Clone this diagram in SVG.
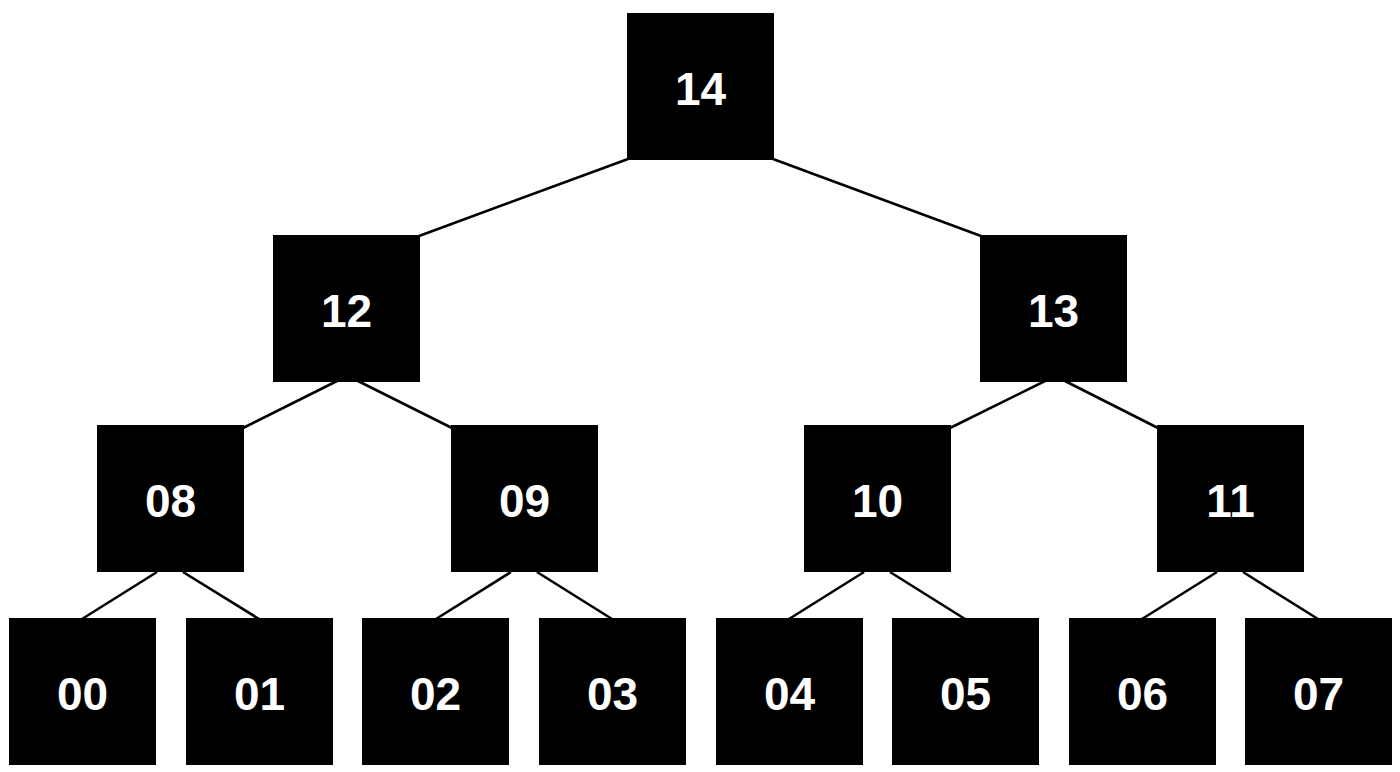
<svg xmlns="http://www.w3.org/2000/svg" width="1400" height="772" viewBox="0 0 1400 772">
<style>
.n rect{fill:#000}
.n text{fill:#fff;font-family:"Liberation Sans",Arial,sans-serif;font-weight:bold;font-size:46px;text-anchor:middle}
#edges line{stroke:#000;stroke-width:2.6}
</style>
<rect width="1400" height="772" fill="#fff"/>
<g id="edges">
<line x1="628" y1="159" x2="419" y2="236"/>
<line x1="773" y1="159" x2="981" y2="236"/>
<line x1="337" y1="381" x2="243" y2="428"/>
<line x1="358" y1="381" x2="452" y2="428"/>
<line x1="1045" y1="381" x2="950" y2="428"/>
<line x1="1065" y1="381" x2="1158" y2="428"/>
<line x1="157" y1="572" x2="82" y2="619"/>
<line x1="183" y1="572" x2="259" y2="619"/>
<line x1="511" y1="572" x2="436" y2="619"/>
<line x1="537" y1="572" x2="612" y2="619"/>
<line x1="864" y1="572" x2="789" y2="619"/>
<line x1="890" y1="572" x2="965" y2="619"/>
<line x1="1217" y1="572" x2="1142" y2="619"/>
<line x1="1243" y1="572" x2="1318" y2="619"/>
</g>
<g id="n14" class="n"><rect x="627" y="13" width="147" height="147"/><text x="700.5" y="105">14</text></g>
<g id="n12" class="n"><rect x="273" y="235" width="147" height="147"/><text x="346.5" y="327">12</text></g>
<g id="n13" class="n"><rect x="980" y="235" width="147" height="147"/><text x="1053.5" y="327">13</text></g>
<g id="n08" class="n"><rect x="97" y="425" width="147" height="147"/><text x="170.5" y="517">08</text></g>
<g id="n09" class="n"><rect x="451" y="425" width="147" height="147"/><text x="524.5" y="517">09</text></g>
<g id="n10" class="n"><rect x="804" y="425" width="147" height="147"/><text x="877.5" y="517">10</text></g>
<g id="n11" class="n"><rect x="1157" y="425" width="147" height="147"/><text x="1230.5" y="517">11</text></g>
<g id="n00" class="n"><rect x="9" y="618" width="147" height="147"/><text x="82.5" y="710">00</text></g>
<g id="n01" class="n"><rect x="186" y="618" width="147" height="147"/><text x="259.5" y="710">01</text></g>
<g id="n02" class="n"><rect x="362" y="618" width="147" height="147"/><text x="435.5" y="710">02</text></g>
<g id="n03" class="n"><rect x="539" y="618" width="147" height="147"/><text x="612.5" y="710">03</text></g>
<g id="n04" class="n"><rect x="716" y="618" width="147" height="147"/><text x="789.5" y="710">04</text></g>
<g id="n05" class="n"><rect x="892" y="618" width="147" height="147"/><text x="965.5" y="710">05</text></g>
<g id="n06" class="n"><rect x="1069" y="618" width="147" height="147"/><text x="1142.5" y="710">06</text></g>
<g id="n07" class="n"><rect x="1245" y="618" width="147" height="147"/><text x="1318.5" y="710">07</text></g>
</svg>
